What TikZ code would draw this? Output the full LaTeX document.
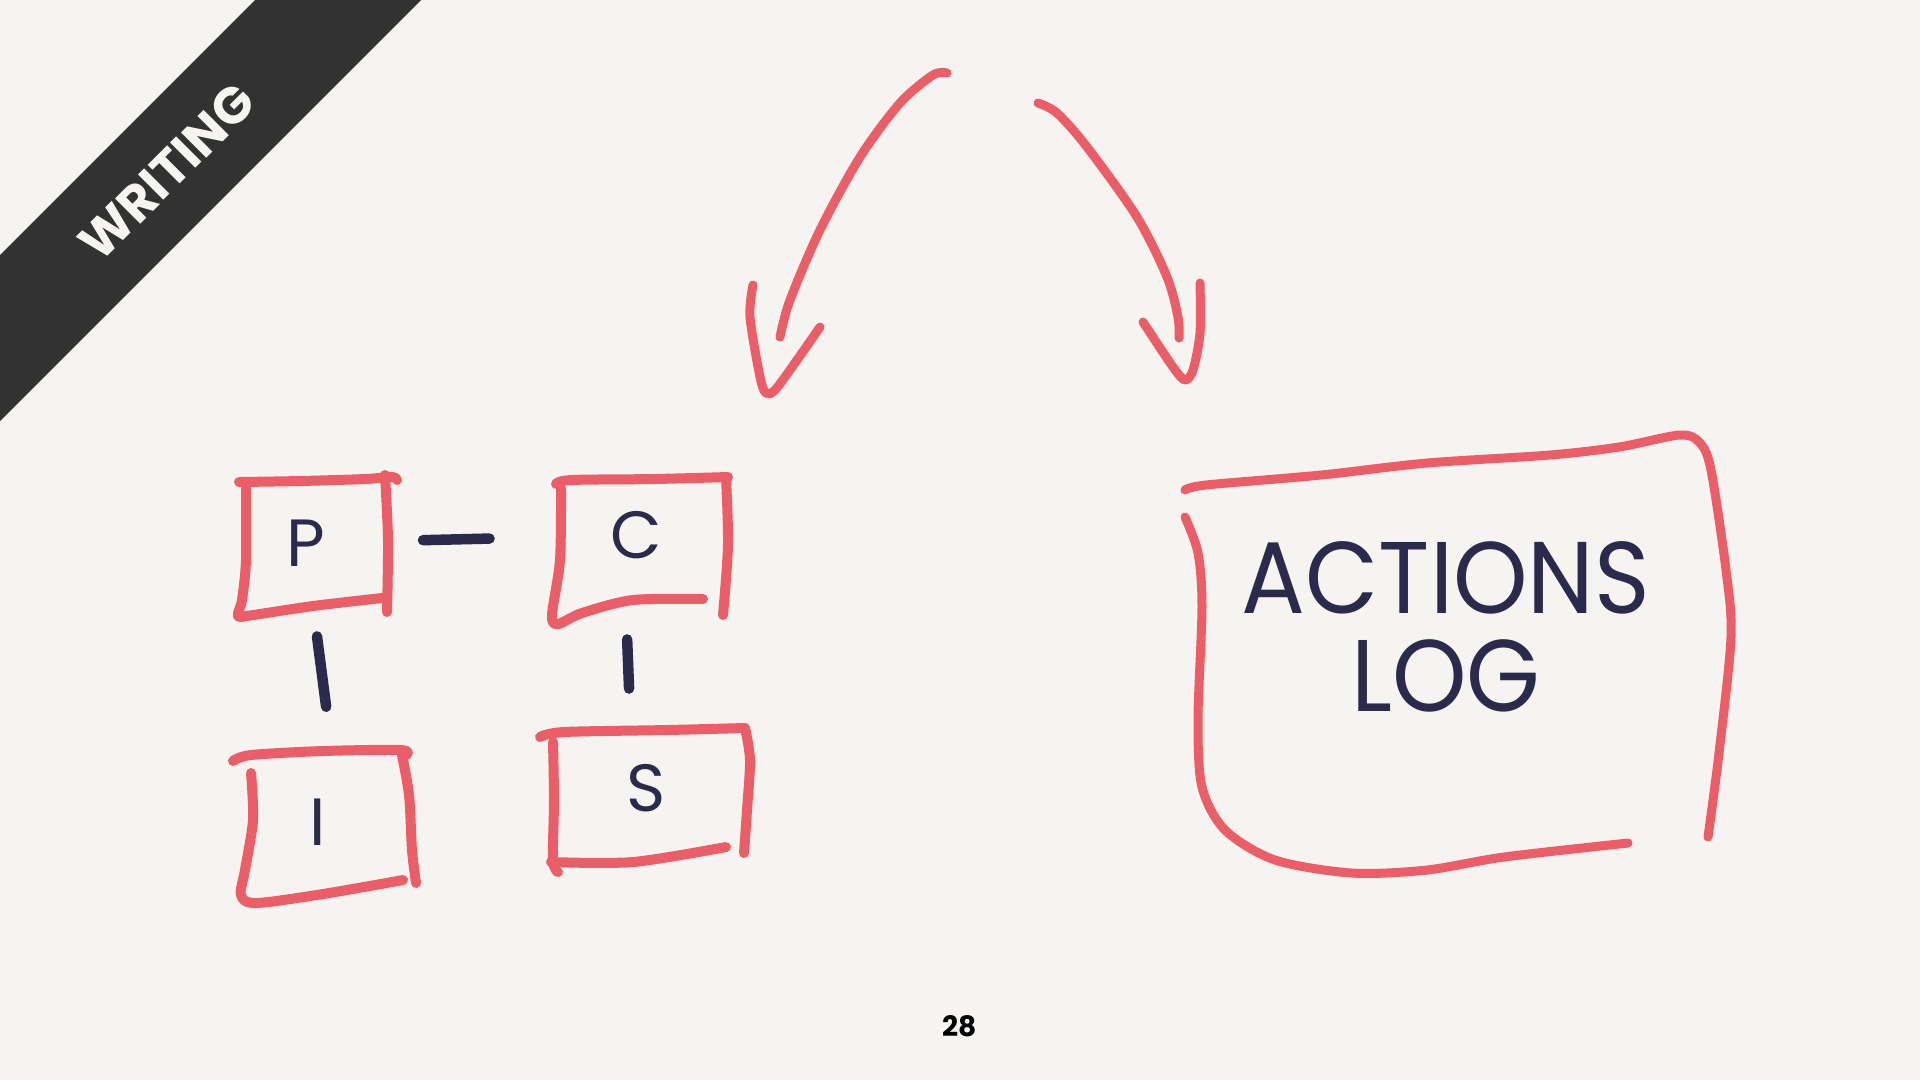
\documentclass[tikz,border=0pt]{standalone}
\usepackage{fontspec}
\newfontfamily\hand{Poppins}
\usetikzlibrary{calc}
\definecolor{paper}{RGB}{245,244,240}
\definecolor{inkred}{RGB}{235,94,104}
\definecolor{inknavy}{RGB}{43,42,76}
\definecolor{bannergrey}{RGB}{50,50,50}
\tikzset{
  sketch/.style={draw=inkred,line width=1mm,line cap=round,line join=round},
  thinsketch/.style={sketch,line width=0.9mm},
  link/.style={draw=inknavy,line width=1.05mm,line cap=round},
  letter/.style={text=inknavy,inner sep=0pt,font=\hand\fontsize{19}{22}\selectfont},
  biglabel/.style={text=inknavy,inner sep=0pt,align=center,font=\hand\fontsize{29}{28}\selectfont}
}

\begin{document}
\begin{tikzpicture}[x=0.1mm,y=-0.1mm]
\fill[paper] (0,0) rectangle (1920,1080);
\fill[bannergrey] (0,255) -- (255,0) -- (421,0) -- (0,421) -- cycle;
\node[rotate=45,text=paper,font=\hand\bfseries\fontsize{14.5}{15}\selectfont] (tag) at (167,172) {WRITING};

\node[letter] (p) at (306,543) {P};
\node[letter] (c) at (636,535) {C};
\node[letter] (i) at (318,822) {I};
\node[letter] (s) at (646,788) {S};
\node[biglabel] (log) at (1446,627) {\scalebox{0.93}[1]{ACTIONS}\\\scalebox{0.93}[1]{LOG}};

\draw[sketch] plot[smooth,tension=0.5] coordinates {(239,482) (300,481) (365,479) (392,477) (397,480)};
\draw[sketch] plot[smooth,tension=0.5] coordinates {(246,488) (246,560) (242,600) (238,616) (253,615) (313,606) (382,598)};
\draw[sketch] plot[smooth,tension=0.5] coordinates {(385,475) (388,540) (387,612)};

\draw[sketch] plot[smooth,tension=0.5] coordinates {(556,484) (571,480) (654,479) (728,477)};
\draw[sketch] plot[smooth,tension=0.5] coordinates {(561,488) (560,560) (552,615) (558,624) (582,613) (633,600) (703,599)};
\draw[sketch] plot[smooth,tension=0.5] coordinates {(726,478) (728,545) (723,615)};

\draw[sketch] plot[smooth,tension=0.5] coordinates {(233,761) (251,755) (323,751) (401,750) (406,755)};
\draw[sketch] plot[smooth,tension=0.5] coordinates {(251,773) (253,820) (245,870) (241,895) (256,903) (323,894) (403,880)};
\draw[sketch] plot[smooth,tension=0.5] coordinates {(401,750) (409,795) (412,850) (416,883)};

\draw[sketch] plot[smooth,tension=0.5] coordinates {(540,737) (564,732) (667,730) (745,728)};
\draw[sketch] plot[smooth,tension=0.5] coordinates {(553,742) (554,800) (553,860) (558,872)};
\draw[sketch] plot[smooth,tension=0.5] coordinates {(551,862) (633,862) (726,847)};
\draw[sketch] plot[smooth,tension=0.5] coordinates {(745,728) (750,760) (747,810) (744,853)};

\draw[link,shorten <=9.7mm,shorten >=12mm] (p) -- (c);
\draw[link,shorten <=7mm,shorten >=9.2mm] ([xshift=0.2mm]p.south) -- ([xshift=2mm]i.north);
\draw[link,shorten <=8mm,shorten >=7.5mm] ([xshift=-1.2mm]c.south) -- ([xshift=-1.4mm]s.north);

\draw[thinsketch] plot[smooth,tension=0.5] coordinates {(1185,490) (1206,485) (1321,475) (1427,463) (1550,455) (1619,447) (1680,435) (1700,443) (1711,470) (1726,570) (1731,637) (1719,753) (1708,837)};
\draw[thinsketch] plot[smooth,tension=0.5] coordinates {(1185,517) (1198,553) (1202,607) (1198,720) (1202,787) (1225,830) (1275,860) (1352,873) (1427,870) (1504,857) (1628,843)};

\draw[thinsketch] plot[smooth,tension=0.5] coordinates {(947,73) (933,75) (900,103) (860,157) (820,230) (790,300) (780,337)};
\draw[thinsketch] plot[smooth,tension=0.5] coordinates {(753,285) (750,317) (760,377) (766,393) (775,390) (797,360) (820,327)};
\draw[thinsketch] plot[smooth,tension=0.5] coordinates {(1038,103) (1057,113) (1087,147) (1137,217) (1167,277) (1178,317) (1179,338)};
\draw[thinsketch] plot[smooth,tension=0.5] coordinates {(1143,322) (1173,367) (1185,380) (1193,370) (1200,333) (1200,283)};

\node[font=\hand\bfseries\fontsize{8}{8}\selectfont] (page) at (960,1026) {28};
\end{tikzpicture}
\end{document}
